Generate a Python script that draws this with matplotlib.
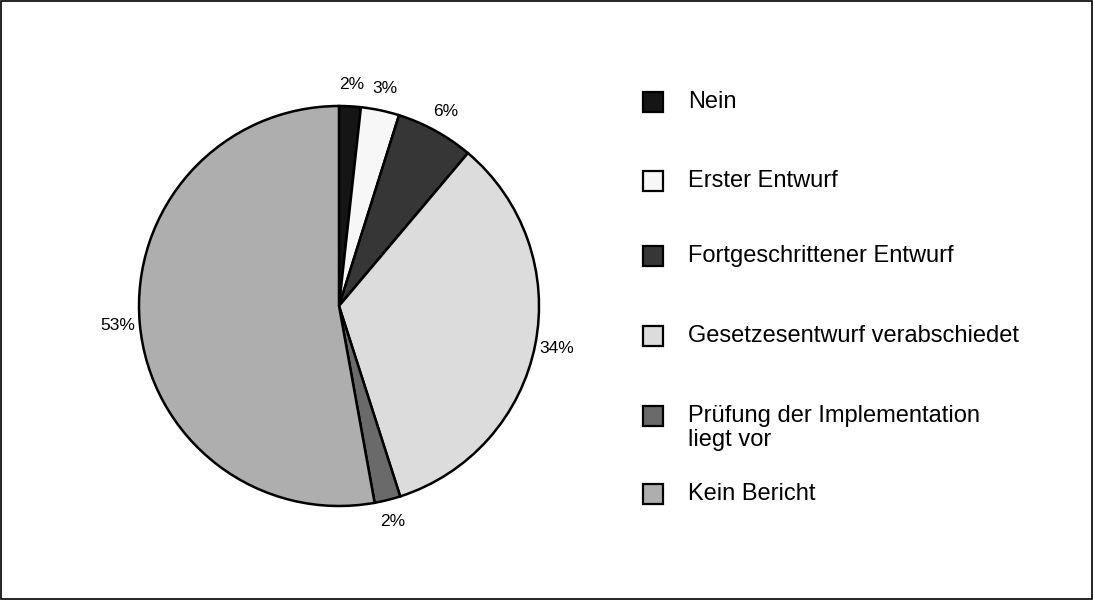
import matplotlib
matplotlib.use("Agg")
import matplotlib.pyplot as plt
from matplotlib.patches import Rectangle

plt.rcParams['font.family'] = ['Liberation Sans', 'DejaVu Sans']

categories = ["Nein", "Erster Entwurf", "Fortgeschrittener Entwurf",
              "Gesetzesentwurf verabschiedet",
              "Prüfung der Implementation\nliegt vor", "Kein Bericht"]
shares = [1.75, 3.1, 6.3, 33.9, 2.1, 52.85]
pct_labels = ["2%", "3%", "6%", "34%", "2%", "53%"]
colors = ["#151515", "#f7f7f7", "#363636", "#dcdcdc", "#6a6a6a", "#aeaeae"]

fig = plt.figure(figsize=(10.94, 6), dpi=100)
ax = fig.add_axes([139/1094, 94/600, 400/1094, 400/600])

wedges, texts = ax.pie(shares, colors=colors, startangle=90, counterclock=False,
                       labels=pct_labels, labeldistance=1.11,
                       wedgeprops=dict(edgecolor="black", linewidth=1.8),
                       textprops=dict(fontsize=12.5, ha="center", va="center"))
for t in texts:
    t.set_horizontalalignment("center")
ax.set_xlim(-1, 1)
ax.set_ylim(-1, 1)
ax.set_aspect("equal")
ax.axis("off")

# legend drawn by hand
legend_y = [102, 181, 256, 336, 416, 494]
for cat, col, y in zip(categories, colors, legend_y):
    fig.patches.append(Rectangle((643/1094, 1 - (y + 10)/600), 20/1094, 20/600,
                                 transform=fig.transFigure, facecolor=col,
                                 edgecolor="black", linewidth=1.6))
    if "\n" in cat:
        fig.text(688/1094, 1 - (y - 11)/600, cat, fontsize=17, va="top",
                 ha="left", linespacing=1.12)
    else:
        fig.text(688/1094, 1 - y/600, cat, fontsize=17, va="center", ha="left")

# figure border
fig.patches.append(Rectangle((0.0005, 0.001), 0.998, 0.997, transform=fig.transFigure,
                             fill=False, edgecolor="black", linewidth=1.2))

fig.savefig("out.png", dpi=100)
